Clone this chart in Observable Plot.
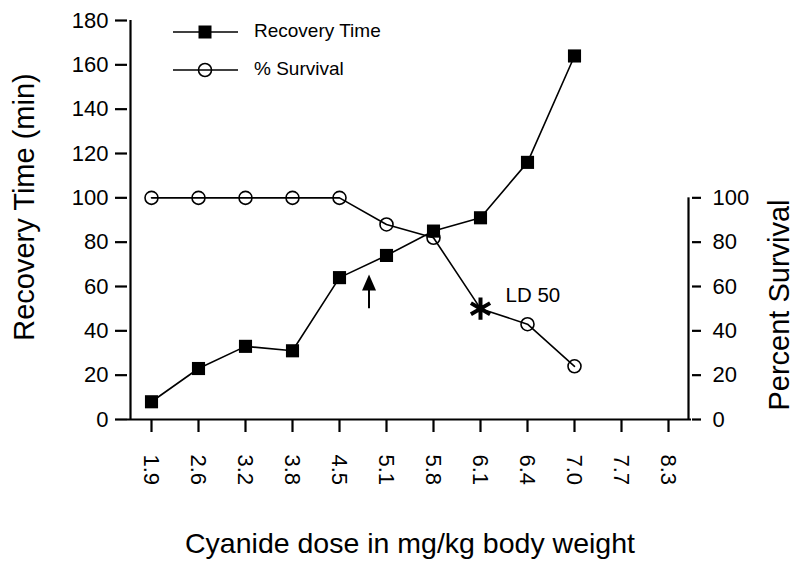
<!DOCTYPE html>
<html><head><meta charset="utf-8">
<script src="https://cdn.jsdelivr.net/npm/d3@7"></script>
<script src="https://cdn.jsdelivr.net/npm/@observablehq/plot@0.6"></script>
<style>body{margin:0;background:#fff} svg{display:block}</style>
</head><body><div id="chart"></div>
<script>
// ---- data ----
const doses = ["1.9","2.6","3.2","3.8","4.5","5.1","5.8","6.1","6.4","7.0","7.7","8.3"];
const recoveryTime = [8, 23, 33, 31, 64, 74, 85, 91, 116, 164];
const survival = [100, 100, 100, 100, 100, 88, 82, 50, 43, 24];
const recoveryTicks = [0, 20, 40, 60, 80, 100, 120, 140, 160, 180];
const survivalTicks = [0, 20, 40, 60, 80, 100];
const ldDose = ["6.1"];
const ldLabel = ["LD 50"];
const arrowDose = ["4.5"];
const arrowRange = [50, 58.5, 61.8]; // shaft bottom, shaft top, head centre
const seriesNames = ["Recovery Time", "% Survival"];
const titles = ["Recovery Time (min)", "Percent Survival", "Cyanide dose in mg/kg body weight"];

const rec = recoveryTime.map((v, i) => ({dose: doses[i], value: v}));
const surv = survival.map((v, i) => ({dose: doses[i], value: v}));
const ld = surv.filter(d => ldDose.includes(d.dose));
const survCircles = surv.filter(d => !ldDose.includes(d.dose));

const font = "'Liberation Sans', Arial, sans-serif";
const arrowHead = {draw(ctx) { ctx.moveTo(0, -8); ctx.lineTo(7, 8); ctx.lineTo(-7, 8); ctx.closePath(); }};

const svg = Plot.plot({
  width: 800, height: 569,
  marginLeft: 127, marginRight: 109, marginTop: 20, marginBottom: 150,
  style: {fontFamily: font, background: "white", color: "black", overflow: "visible"},
  x: {type: "point", domain: doses, range: [148, 671], padding: 0},
  y: {domain: [0, 180], range: [419, 20]},
  marks: [
    Plot.ruleY([0], {strokeWidth: 2.2}),
    Plot.ruleX([doses[0]], {dx: -21, strokeWidth: 2.2}),
    Plot.ruleX([doses[doses.length - 1]], {dx: 20, y1: 0, y2: 100, strokeWidth: 2.2}),
    Plot.axisY({anchor: "left", ticks: recoveryTicks, tickSize: 12, tickPadding: 7, fontSize: 22, label: null, strokeWidth: 2.2}),
    Plot.axisY({anchor: "right", ticks: survivalTicks, tickSize: 9, tickPadding: 12, fontSize: 22, label: null, strokeWidth: 2.2}),
    Plot.axisX({anchor: "bottom", tickSize: 13, tickPadding: 22, tickRotate: 90, fontSize: 22, label: null, strokeWidth: 2.2}),
    // survival
    Plot.line(surv, {x: "dose", y: "value", stroke: "black", strokeWidth: 1.6}),
    Plot.dot(survCircles, {x: "dose", y: "value", r: 6.5, stroke: "black", strokeWidth: 1.6, fill: "none"}),
    Plot.dot(ld, {x: "dose", y: "value", symbol: "asterisk", r: 10.5, stroke: "black", strokeWidth: 4}),
    Plot.text(ld, {x: "dose", y: "value", text: () => ldLabel[0], dx: 25, dy: -13, textAnchor: "start", fontSize: 20.5}),
    // recovery time
    Plot.line(rec, {x: "dose", y: "value", stroke: "black", strokeWidth: 1.6}),
    Plot.dot(rec, {x: "dose", y: "value", symbol: "square", r: 7.4, fill: "black"}),
    // arrow
    Plot.ruleX(arrowDose, {dx: 29.5, y1: arrowRange[0], y2: arrowRange[1], strokeWidth: 2}),
    Plot.dot(arrowDose, {x: d => d, y: arrowRange[2], dx: 29.5, symbol: arrowHead, fill: "black", r: 5})
  ]
});

const s = d3.select(svg);
// legend
const lg = s.append("g").attr("font-family", font).attr("font-size", 19).attr("text-anchor", "start").attr("fill", "black");
[[32, "square"], [70, "circle"]].forEach(([y, sym], i) => {
  lg.append("line").attr("x1", 173).attr("x2", 238).attr("y1", y).attr("y2", y).attr("stroke", "black").attr("stroke-width", 1.6);
  if (sym === "square") lg.append("rect").attr("x", 205 - 6.5).attr("y", y - 6.5).attr("width", 13).attr("height", 13).attr("fill", "black");
  else lg.append("circle").attr("cx", 205).attr("cy", y).attr("r", 6.5).attr("fill", "none").attr("stroke", "black").attr("stroke-width", 1.6);
  lg.append("text").attr("x", 254).attr("y", y + 5).attr("text-anchor", "start").text(seriesNames[i]);
});
// axis titles
const tg = s.append("g").attr("font-family", font).attr("font-size", 29).attr("text-anchor", "middle").attr("fill", "black");
tg.append("text").attr("transform", "translate(24,207) rotate(-90)").attr("dy", "0.35em").text(titles[0]);
tg.append("text").attr("transform", "translate(779,305) rotate(-90)").attr("dy", "0.35em").text(titles[1]);
tg.append("text").attr("x", 410).attr("y", 553).attr("font-size", 28.5).text(titles[2]);

document.getElementById("chart").appendChild(svg);
</script>
</body></html>
